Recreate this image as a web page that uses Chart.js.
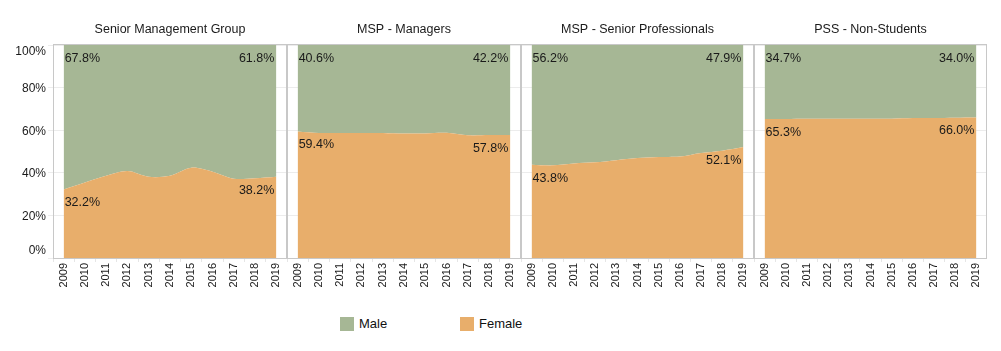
<!DOCTYPE html>
<html>
<head>
<meta charset="utf-8">
<script src="https://cdn.jsdelivr.net/npm/chart.js@4"></script>
<style>
  body { margin: 0; background: #fff; font-family: Arial, "Liberation Sans", sans-serif; }
  #wrap { position: relative; width: 1001px; height: 351px; }
  canvas { position: absolute; top: 0; }
  .leg { position: absolute; top: 317px; height: 14px; font-size: 13px; color: #111; }
  .leg span { position: absolute; left: 0; top: 0; width: 14px; height: 14px; }
  .leg b { position: absolute; left: 19px; top: -1px; font-weight: normal; white-space: nowrap; line-height: 16px; }
</style>
</head>
<body>
<div id="wrap">
  <canvas id="p0" width="288" height="300" style="left:0px"></canvas>
  <canvas id="p1" width="234" height="300" style="left:287px"></canvas>
  <canvas id="p2" width="233" height="300" style="left:521px"></canvas>
  <canvas id="p3" width="233" height="300" style="left:754px"></canvas>
  <div class="leg" style="left:340px"><span style="background:#a6b795"></span><b>Male</b></div>
  <div class="leg" style="left:460px"><span style="background:#e8ae6b"></span><b>Female</b></div>
</div>
<script>
const years = ['2009', '2010', '2011', '2012', '2013', '2014', '2015', '2016', '2017', '2018', '2019'];
const yTicks = [0, 20, 40, 60, 80, 100];
const titles = ['Senior Management Group', 'MSP - Managers', 'MSP - Senior Professionals', 'PSS - Non-Students'];

const femaleSMG = [32.2, 35.5, 38.6, 40.8, 38.1, 38.6, 42.4, 40.5, 37.2, 37.5, 38.2];
const maleSMG   = [67.8, 64.5, 61.4, 59.2, 61.9, 61.4, 57.6, 59.5, 62.8, 62.5, 61.8];
const femaleMgr = [59.4, 58.7, 58.7, 58.7, 58.7, 58.4, 58.5, 58.8, 57.6, 57.7, 57.8];
const maleMgr   = [40.6, 41.3, 41.3, 41.3, 41.3, 41.6, 41.5, 41.2, 42.4, 42.3, 42.2];
const femaleSP  = [43.8, 43.5, 44.4, 44.9, 45.9, 46.9, 47.4, 47.6, 49.3, 50.4, 52.1];
const maleSP    = [56.2, 56.5, 55.6, 55.1, 54.1, 53.1, 52.6, 52.4, 50.7, 49.6, 47.9];
const femalePSS = [65.3, 65.3, 65.4, 65.4, 65.4, 65.4, 65.4, 65.7, 65.7, 65.9, 66.0];
const malePSS   = [34.7, 34.7, 34.6, 34.6, 34.6, 34.6, 34.6, 34.3, 34.3, 34.1, 34.0];

const femaleAll = [femaleSMG, femaleMgr, femaleSP, femalePSS];
const maleAll = [maleSMG, maleMgr, maleSP, malePSS];

const green = '#a6b795';
const orange = '#e8ae6b';
const fontFam = 'Arial, "Liberation Sans", sans-serif';

// frame, title, end labels and y labels
const panelDeco = {
  id: 'panelDeco',
  afterDatasetsDraw(chart, args, opts) {
    const ctx = chart.ctx;
    const a = chart.chartArea;
    ctx.save();
    ctx.strokeStyle = '#c8c8c8';
    ctx.lineWidth = 1;
    ctx.strokeRect(a.left + 0.5, a.top - 0.5, a.right - a.left - 1, a.bottom - a.top + 1);

    ctx.fillStyle = '#1a1a1a';
    ctx.textBaseline = 'middle';
    ctx.textAlign = 'center';
    ctx.font = '12.5px ' + fontFam;
    ctx.fillText(opts.title, (a.left + a.right) / 2, 30);

    const fem = chart.getDatasetMeta(0).data;
    const mal = chart.getDatasetMeta(1).data;
    const vf = chart.data.datasets[0].data;
    const vm = chart.data.datasets[1].data;
    const last = fem.length - 1;
    ctx.textAlign = 'left';
    ctx.fillText(vm[0].toFixed(1) + '%', mal[0].x + 1, mal[0].y + 13.5);
    ctx.fillText(vf[0].toFixed(1) + '%', fem[0].x + 1, fem[0].y + 13.5);
    ctx.textAlign = 'right';
    ctx.fillText(vm[last].toFixed(1) + '%', mal[last].x - 2, mal[last].y + 13.5);
    ctx.fillText(vf[last].toFixed(1) + '%', fem[last].x - 2, fem[last].y + 13.5);

    if (opts.yLabels) {
      const ys = chart.scales.y;
      ctx.font = '12px ' + fontFam;
      ctx.textAlign = 'right';
      yTicks.forEach(t => {
        let y = ys.getPixelForValue(t) + 1;
        y = Math.min(Math.max(y, a.top + 7), a.bottom - 7);
        ctx.fillText(t + '%', a.left - 7, y);
      });
    }
    ctx.restore();
  }
};

titles.forEach((title, i) => {
  const first = i === 0;
  new Chart(document.getElementById('p' + i), {
    type: 'line',
    data: {
      labels: years,
      datasets: [{
        label: 'Female',
        data: femaleAll[i],
        backgroundColor: orange,
        borderWidth: 0,
        pointRadius: 0,
        fill: 'origin',
        tension: 0.3
      },
      {
        label: 'Male',
        data: maleAll[i],
        backgroundColor: green,
        borderWidth: 0,
        pointRadius: 0,
        fill: '-1',
        tension: 0.3
      }]
    },
    options: {
      responsive: false,
      animation: false,
      events: [],
      layout: { padding: { left: 0, right: first ? 1 : 0, top: 45, bottom: 0 } },
      scales: {
        x: {
          offset: true,
          grid: { offset: true, drawOnChartArea: false, tickLength: 4, color: '#e6e6e6' },
          border: { display: false },
          ticks: {
            minRotation: 90,
            maxRotation: 90,
            autoSkip: false,
            padding: 1,
            color: '#1a1a1a',
            font: { size: 11, family: fontFam }
          },
          afterFit(s) {
            s.height = 42;
            s.paddingLeft = 0;
            s.paddingRight = 0;
          }
        },
        y: {
          stacked: true,
          min: 0,
          max: 100,
          grid: { color: '#ececec', drawTicks: first, tickLength: 5 },
          border: { display: false },
          ticks: { display: false, stepSize: 20 },
          afterFit(s) {
            s.width = first ? 53 : 0;
            s.paddingTop = 0;
            s.paddingBottom = 0;
          }
        }
      },
      plugins: {
        legend: { display: false },
        tooltip: { enabled: false },
        title: { display: false },
        panelDeco: { yLabels: first, title: title }
      }
    },
    plugins: [panelDeco]
  });
});
</script>
</body>
</html>
